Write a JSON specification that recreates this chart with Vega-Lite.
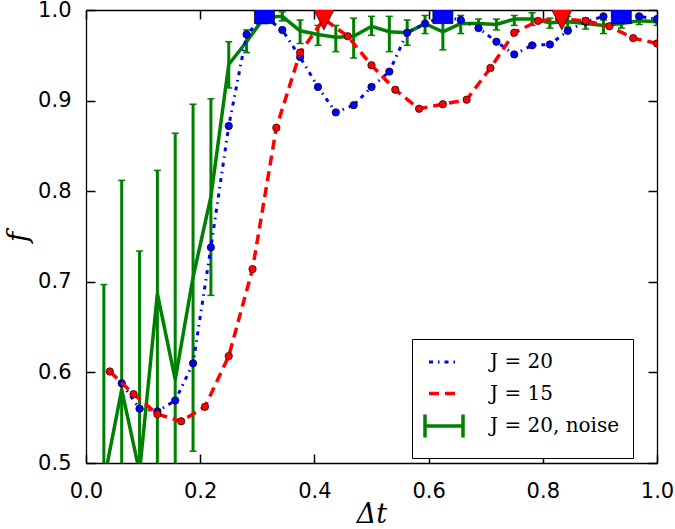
{
  "$schema": "https://vega.github.io/schema/vega-lite/v6.json",
  "width": 571,
  "height": 453,
  "autosize": {"type": "none"},
  "padding": {"left": 86, "top": 10, "right": 18, "bottom": 66},
  "background": "white",
  "config": {"view": {"stroke": null}, "axis": {"grid": false}},
  "datasets": {
    "blue": [
      {"series": "J = 20", "x": 0.0625, "y": 0.588},
      {"series": "J = 20", "x": 0.09375, "y": 0.560},
      {"series": "J = 20", "x": 0.125, "y": 0.557},
      {"series": "J = 20", "x": 0.15625, "y": 0.569},
      {"series": "J = 20", "x": 0.1875, "y": 0.610},
      {"series": "J = 20", "x": 0.21875, "y": 0.738},
      {"series": "J = 20", "x": 0.25, "y": 0.872},
      {"series": "J = 20", "x": 0.28125, "y": 0.973},
      {"series": "J = 20", "x": 0.3125, "y": 0.993},
      {"series": "J = 20", "x": 0.34375, "y": 0.978},
      {"series": "J = 20", "x": 0.375, "y": 0.948},
      {"series": "J = 20", "x": 0.40625, "y": 0.915},
      {"series": "J = 20", "x": 0.4375, "y": 0.887},
      {"series": "J = 20", "x": 0.46875, "y": 0.895},
      {"series": "J = 20", "x": 0.5, "y": 0.915},
      {"series": "J = 20", "x": 0.53125, "y": 0.932},
      {"series": "J = 20", "x": 0.5625, "y": 0.975},
      {"series": "J = 20", "x": 0.59375, "y": 0.985},
      {"series": "J = 20", "x": 0.625, "y": 0.993},
      {"series": "J = 20", "x": 0.65625, "y": 0.989},
      {"series": "J = 20", "x": 0.6875, "y": 0.980},
      {"series": "J = 20", "x": 0.71875, "y": 0.965},
      {"series": "J = 20", "x": 0.75, "y": 0.951},
      {"series": "J = 20", "x": 0.78125, "y": 0.961},
      {"series": "J = 20", "x": 0.8125, "y": 0.962},
      {"series": "J = 20", "x": 0.84375, "y": 0.977},
      {"series": "J = 20", "x": 0.875, "y": 0.987},
      {"series": "J = 20", "x": 0.90625, "y": 0.993},
      {"series": "J = 20", "x": 0.9375, "y": 0.993},
      {"series": "J = 20", "x": 0.96875, "y": 0.993},
      {"series": "J = 20", "x": 1.0, "y": 0.990}
    ],
    "red": [
      {"series": "J = 15", "x": 0.041667, "y": 0.601},
      {"series": "J = 15", "x": 0.083333, "y": 0.576},
      {"series": "J = 15", "x": 0.125, "y": 0.554},
      {"series": "J = 15", "x": 0.166667, "y": 0.546},
      {"series": "J = 15", "x": 0.208333, "y": 0.562},
      {"series": "J = 15", "x": 0.25, "y": 0.618},
      {"series": "J = 15", "x": 0.291667, "y": 0.714},
      {"series": "J = 15", "x": 0.333333, "y": 0.870},
      {"series": "J = 15", "x": 0.375, "y": 0.953},
      {"series": "J = 15", "x": 0.416667, "y": 0.990},
      {"series": "J = 15", "x": 0.458333, "y": 0.971},
      {"series": "J = 15", "x": 0.5, "y": 0.939},
      {"series": "J = 15", "x": 0.541667, "y": 0.912},
      {"series": "J = 15", "x": 0.583333, "y": 0.891},
      {"series": "J = 15", "x": 0.625, "y": 0.896},
      {"series": "J = 15", "x": 0.666667, "y": 0.901},
      {"series": "J = 15", "x": 0.708333, "y": 0.936},
      {"series": "J = 15", "x": 0.75, "y": 0.975},
      {"series": "J = 15", "x": 0.791667, "y": 0.988},
      {"series": "J = 15", "x": 0.833333, "y": 0.990},
      {"series": "J = 15", "x": 0.875, "y": 0.988},
      {"series": "J = 15", "x": 0.916667, "y": 0.982},
      {"series": "J = 15", "x": 0.958333, "y": 0.969},
      {"series": "J = 15", "x": 1.0, "y": 0.963}
    ],
    "green": [
      {"series": "J = 20, noise", "x": 0.03125, "y": 0.480, "lo": 0.200, "hi": 0.697},
      {"series": "J = 20, noise", "x": 0.0625, "y": 0.581, "lo": 0.350, "hi": 0.812},
      {"series": "J = 20, noise", "x": 0.09375, "y": 0.490, "lo": 0.250, "hi": 0.734},
      {"series": "J = 20, noise", "x": 0.125, "y": 0.687, "lo": 0.450, "hi": 0.823},
      {"series": "J = 20, noise", "x": 0.15625, "y": 0.592, "lo": 0.320, "hi": 0.864},
      {"series": "J = 20, noise", "x": 0.1875, "y": 0.705, "lo": 0.513, "hi": 0.896},
      {"series": "J = 20, noise", "x": 0.21875, "y": 0.794, "lo": 0.685, "hi": 0.902},
      {"series": "J = 20, noise", "x": 0.25, "y": 0.940, "lo": 0.914, "hi": 0.965},
      {"series": "J = 20, noise", "x": 0.28125, "y": 0.965, "lo": 0.953, "hi": 0.978},
      {"series": "J = 20, noise", "x": 0.3125, "y": 0.992, "lo": 0.985, "hi": 0.999},
      {"series": "J = 20, noise", "x": 0.34375, "y": 0.993, "lo": 0.988, "hi": 0.998},
      {"series": "J = 20, noise", "x": 0.375, "y": 0.977, "lo": 0.963, "hi": 0.989},
      {"series": "J = 20, noise", "x": 0.40625, "y": 0.973, "lo": 0.961, "hi": 0.983},
      {"series": "J = 20, noise", "x": 0.4375, "y": 0.970, "lo": 0.954, "hi": 0.983},
      {"series": "J = 20, noise", "x": 0.46875, "y": 0.971, "lo": 0.947, "hi": 0.991},
      {"series": "J = 20, noise", "x": 0.5, "y": 0.982, "lo": 0.972, "hi": 0.993},
      {"series": "J = 20, noise", "x": 0.53125, "y": 0.976, "lo": 0.954, "hi": 0.993},
      {"series": "J = 20, noise", "x": 0.5625, "y": 0.975, "lo": 0.961, "hi": 0.989},
      {"series": "J = 20, noise", "x": 0.59375, "y": 0.985, "lo": 0.974, "hi": 0.994},
      {"series": "J = 20, noise", "x": 0.625, "y": 0.976, "lo": 0.956, "hi": 0.989},
      {"series": "J = 20, noise", "x": 0.65625, "y": 0.985, "lo": 0.974, "hi": 0.994},
      {"series": "J = 20, noise", "x": 0.6875, "y": 0.985, "lo": 0.978, "hi": 0.990},
      {"series": "J = 20, noise", "x": 0.71875, "y": 0.984, "lo": 0.978, "hi": 0.990},
      {"series": "J = 20, noise", "x": 0.75, "y": 0.990, "lo": 0.983, "hi": 0.994},
      {"series": "J = 20, noise", "x": 0.78125, "y": 0.990, "lo": 0.983, "hi": 0.997},
      {"series": "J = 20, noise", "x": 0.8125, "y": 0.986, "lo": 0.980, "hi": 0.991},
      {"series": "J = 20, noise", "x": 0.84375, "y": 0.987, "lo": 0.981, "hi": 0.993},
      {"series": "J = 20, noise", "x": 0.875, "y": 0.985, "lo": 0.979, "hi": 0.991},
      {"series": "J = 20, noise", "x": 0.90625, "y": 0.983, "lo": 0.974, "hi": 0.989},
      {"series": "J = 20, noise", "x": 0.9375, "y": 0.985, "lo": 0.980, "hi": 0.989},
      {"series": "J = 20, noise", "x": 0.96875, "y": 0.988, "lo": 0.984, "hi": 0.992},
      {"series": "J = 20, noise", "x": 1.0, "y": 0.987, "lo": 0.983, "hi": 0.991}
    ],
    "squares": [
      {"x": 0.3125, "y": 0.996},
      {"x": 0.625, "y": 0.996},
      {"x": 0.9375, "y": 0.996}
    ],
    "triangles": [
      {"x": 0.416667, "y": 0.9895},
      {"x": 0.833333, "y": 0.9895}
    ]
  },
  "layer": [
    {
      "data": {"name": "green"},
      "mark": {"type": "line", "clip": true, "strokeWidth": 3.5},
      "encoding": {
        "x": {"field": "x", "type": "quantitative", "scale": {"domain": [0, 1], "nice": false, "zero": false},
          "axis": {"orient": "bottom", "values": [0, 0.2, 0.4, 0.6, 0.8, 1.0], "format": ".1f", "title": "Δt",
            "tickSize": -9, "tickWidth": 1.5, "tickColor": "black", "domainColor": "black", "domainWidth": 1.3,
            "labelFont": "DejaVu Sans", "labelFontSize": 21, "labelColor": "black", "labelPadding": 26, "labelFlush": false,
            "titleFont": "DejaVu Serif", "titleFontSize": 27, "titleFontStyle": "italic", "titleFontWeight": "normal", "titleColor": "black", "titlePadding": 0}},
        "y": {"field": "y", "type": "quantitative", "scale": {"domain": [0.5, 1], "nice": false, "zero": false},
          "axis": {"orient": "left", "values": [0.5, 0.6, 0.7, 0.8, 0.9, 1.0], "format": ".1f", "title": "f",
            "tickSize": -9, "tickWidth": 1.5, "tickColor": "black", "domainColor": "black", "domainWidth": 1.3,
            "labelFont": "DejaVu Sans", "labelFontSize": 21, "labelColor": "black", "labelPadding": 24, "labelFlush": false,
            "titleFont": "DejaVu Serif", "titleFontSize": 28, "titleFontStyle": "italic", "titleFontWeight": "normal", "titleColor": "black", "titlePadding": 5}},
        "color": {"field": "series", "type": "nominal",
          "scale": {"domain": ["J = 20", "J = 15", "J = 20, noise"], "range": ["#0000ff", "#ff0000", "#008000"]},
          "legend": {"title": null, "orient": "none", "legendX": 326, "legendY": 329, "direction": "vertical",
            "fillColor": "white", "strokeColor": "black", "padding": 13, "cornerRadius": 0,
            "symbolSize": 400, "symbolOffset": 9, "labelOffset": 36, "rowPadding": -5.5,
            "labelFont": "DejaVu Serif", "labelFontSize": 20, "labelColor": "black", "labelLimit": 300,
            "symbolStrokeWidth": 3, "symbolFillColor": "transparent",
            "encode": {"symbols": {"update": {
              "shape": {"signal": "datum.value === 'J = 20, noise' ? 'M-1.9,-1.15L-1.9,1.15M-1.9,0L1.9,0M1.9,-1.15L1.9,1.15' : 'M-1.9,-1.15M1.9,1.15M-1.5,0L1.5,0'"},
              "strokeDash": {"signal": "datum.value === 'J = 20' ? [4,5,1.5,5] : (datum.value === 'J = 15' ? [10,6] : [])"},
              "strokeWidth": {"signal": "datum.value === 'J = 20' ? 3 : 3.5"},
              "fill": {"value": "transparent"}
            }}}}}
      }
    },
    {
      "data": {"name": "green"},
      "mark": {"type": "rule", "clip": true, "color": "#008000", "strokeWidth": 3},
      "encoding": {
        "x": {"field": "x", "type": "quantitative", "scale": {"domain": [0, 1], "nice": false, "zero": false}, "axis": null},
        "y": {"field": "lo", "type": "quantitative", "scale": {"domain": [0.5, 1], "nice": false, "zero": false}, "axis": null},
        "y2": {"field": "hi"}
      }
    },
    {
      "data": {"name": "green"},
      "mark": {"type": "tick", "clip": true, "orient": "horizontal", "color": "#008000", "size": 7, "thickness": 1.5, "opacity": 1},
      "encoding": {
        "x": {"field": "x", "type": "quantitative", "scale": {"domain": [0, 1], "nice": false, "zero": false}, "axis": null},
        "y": {"field": "lo", "type": "quantitative", "scale": {"domain": [0.5, 1], "nice": false, "zero": false}, "axis": null}
      }
    },
    {
      "data": {"name": "green"},
      "mark": {"type": "tick", "clip": true, "orient": "horizontal", "color": "#008000", "size": 7, "thickness": 1.5, "opacity": 1},
      "encoding": {
        "x": {"field": "x", "type": "quantitative", "scale": {"domain": [0, 1], "nice": false, "zero": false}, "axis": null},
        "y": {"field": "hi", "type": "quantitative", "scale": {"domain": [0.5, 1], "nice": false, "zero": false}, "axis": null}
      }
    },
    {
      "data": {"name": "blue"},
      "mark": {"type": "line", "clip": true, "strokeWidth": 3, "strokeDash": [4, 5, 1.5, 5]},
      "encoding": {
        "x": {"field": "x", "type": "quantitative", "scale": {"domain": [0, 1], "nice": false, "zero": false}, "axis": null},
        "y": {"field": "y", "type": "quantitative", "scale": {"domain": [0.5, 1], "nice": false, "zero": false}, "axis": null},
        "color": {"field": "series", "type": "nominal", "scale": {"domain": ["J = 20", "J = 15", "J = 20, noise"], "range": ["#0000ff", "#ff0000", "#008000"]}}
      }
    },
    {
      "data": {"name": "blue"},
      "mark": {"type": "point", "clip": true, "shape": "circle", "filled": true, "fill": "#0000ff", "stroke": "black", "strokeWidth": 0.7, "size": 55, "opacity": 1},
      "encoding": {
        "x": {"field": "x", "type": "quantitative", "scale": {"domain": [0, 1], "nice": false, "zero": false}, "axis": null},
        "y": {"field": "y", "type": "quantitative", "scale": {"domain": [0.5, 1], "nice": false, "zero": false}, "axis": null}
      }
    },
    {
      "data": {"name": "red"},
      "mark": {"type": "line", "clip": true, "strokeWidth": 3.5, "strokeDash": [10, 6]},
      "encoding": {
        "x": {"field": "x", "type": "quantitative", "scale": {"domain": [0, 1], "nice": false, "zero": false}, "axis": null},
        "y": {"field": "y", "type": "quantitative", "scale": {"domain": [0.5, 1], "nice": false, "zero": false}, "axis": null},
        "color": {"field": "series", "type": "nominal", "scale": {"domain": ["J = 20", "J = 15", "J = 20, noise"], "range": ["#0000ff", "#ff0000", "#008000"]}}
      }
    },
    {
      "data": {"name": "red"},
      "mark": {"type": "point", "clip": true, "shape": "circle", "filled": true, "fill": "#ff0000", "stroke": "black", "strokeWidth": 0.7, "size": 55, "opacity": 1},
      "encoding": {
        "x": {"field": "x", "type": "quantitative", "scale": {"domain": [0, 1], "nice": false, "zero": false}, "axis": null},
        "y": {"field": "y", "type": "quantitative", "scale": {"domain": [0.5, 1], "nice": false, "zero": false}, "axis": null}
      }
    },
    {
      "data": {"name": "squares"},
      "mark": {"type": "point", "clip": true, "shape": "square", "filled": true, "fill": "#0000ff", "stroke": "black", "strokeWidth": 0.7, "size": 400, "opacity": 1},
      "encoding": {
        "x": {"field": "x", "type": "quantitative", "scale": {"domain": [0, 1], "nice": false, "zero": false}, "axis": null},
        "y": {"field": "y", "type": "quantitative", "scale": {"domain": [0.5, 1], "nice": false, "zero": false}, "axis": null}
      }
    },
    {
      "data": {"name": "triangles"},
      "mark": {"type": "point", "clip": true, "shape": "M-1,-1L1,-1L0,1Z", "filled": true, "fill": "#ff0000", "stroke": "black", "strokeWidth": 0.7, "size": 441, "opacity": 1},
      "encoding": {
        "x": {"field": "x", "type": "quantitative", "scale": {"domain": [0, 1], "nice": false, "zero": false}, "axis": null},
        "y": {"field": "y", "type": "quantitative", "scale": {"domain": [0.5, 1], "nice": false, "zero": false}, "axis": null}
      }
    },
    {
      "data": {"name": "squares"},
      "mark": {"type": "point", "opacity": 0},
      "encoding": {
        "x": {"field": "x", "type": "quantitative", "scale": {"domain": [0, 1], "nice": false, "zero": false},
          "axis": {"orient": "top", "values": [0, 0.2, 0.4, 0.6, 0.8, 1.0], "labels": false, "title": null,
            "tickSize": -9, "tickWidth": 1.5, "tickColor": "black", "domainColor": "black", "domainWidth": 1.3}},
        "y": {"field": "y", "type": "quantitative", "scale": {"domain": [0.5, 1], "nice": false, "zero": false},
          "axis": {"orient": "right", "values": [0.5, 0.6, 0.7, 0.8, 0.9, 1.0], "labels": false, "title": null,
            "tickSize": -9, "tickWidth": 1.5, "tickColor": "black", "domainColor": "black", "domainWidth": 1.3}}
      }
    }
  ],
  "resolve": {"axis": {"x": "independent", "y": "independent"}}
}
